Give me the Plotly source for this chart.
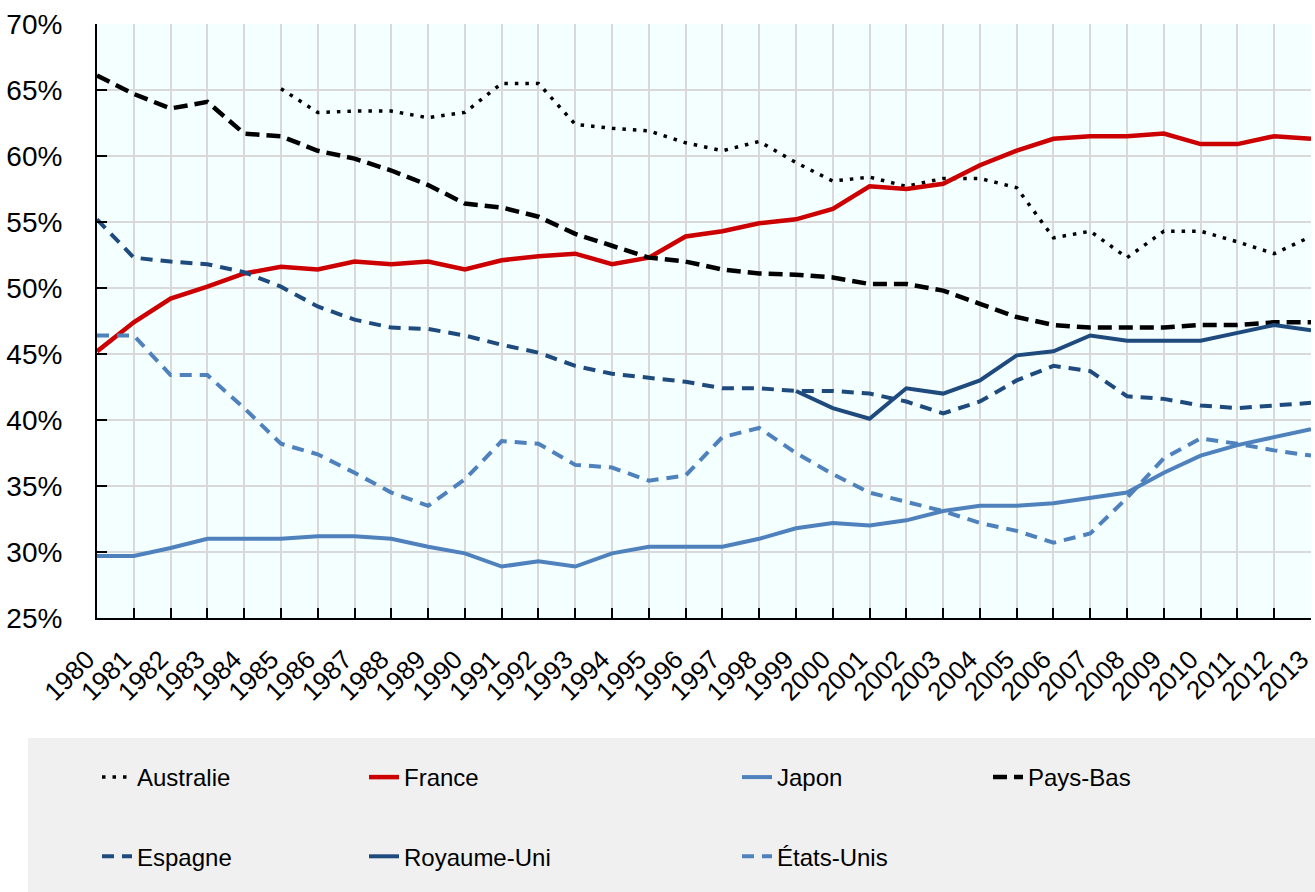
import plotly.graph_objects as go

years = list(range(1980, 2014))
aus_years = list(range(1985, 2014))
uk_years = list(range(1999, 2014))

australie = [65.1, 63.3, 63.4, 63.4, 62.9, 63.3, 65.5, 65.5, 62.4, 62.1, 61.9, 61.0, 60.4,
             61.1, 59.5, 58.1, 58.4, 57.7, 58.3, 58.3, 57.6, 53.8, 54.3, 52.3, 54.3, 54.3,
             53.5, 52.6, 53.9]
france = [45.2, 47.4, 49.2, 50.1, 51.1, 51.6, 51.4, 52.0, 51.8, 52.0, 51.4, 52.1, 52.4,
          52.6, 51.8, 52.3, 53.9, 54.3, 54.9, 55.2, 56.0, 57.7, 57.5, 57.9, 59.3, 60.4,
          61.3, 61.5, 61.5, 61.7, 60.9, 60.9, 61.5, 61.3]
japon = [29.7, 29.7, 30.3, 31.0, 31.0, 31.0, 31.2, 31.2, 31.0, 30.4, 29.9, 28.9, 29.3,
         28.9, 29.9, 30.4, 30.4, 30.4, 31.0, 31.8, 32.2, 32.0, 32.4, 33.1, 33.5, 33.5,
         33.7, 34.1, 34.5, 36.0, 37.3, 38.1, 38.7, 39.3]
pays_bas = [66.1, 64.7, 63.6, 64.1, 61.7, 61.5, 60.4, 59.8, 58.9, 57.8, 56.4, 56.1, 55.4,
            54.1, 53.2, 52.3, 52.0, 51.4, 51.1, 51.0, 50.8, 50.3, 50.3, 49.8, 48.8, 47.8,
            47.2, 47.0, 47.0, 47.0, 47.2, 47.2, 47.4, 47.4]
espagne = [55.2, 52.3, 52.0, 51.8, 51.2, 50.1, 48.6, 47.6, 47.0, 46.9, 46.4, 45.7, 45.1,
           44.1, 43.5, 43.2, 42.9, 42.4, 42.4, 42.2, 42.2, 42.0, 41.4, 40.5, 41.4, 43.0,
           44.1, 43.7, 41.8, 41.6, 41.1, 40.9, 41.1, 41.3]
royaume_uni = [42.2, 40.9, 40.1, 42.4, 42.0, 43.0, 44.9, 45.2, 46.4, 46.0, 46.0, 46.0,
               46.6, 47.2, 46.8]
etats_unis = [46.4, 46.4, 43.4, 43.4, 40.9, 38.2, 37.4, 36.0, 34.5, 33.5, 35.5, 38.4, 38.2,
              36.6, 36.4, 35.4, 35.8, 38.7, 39.4, 37.5, 35.9, 34.5, 33.8, 33.1, 32.2, 31.6,
              30.7, 31.4, 34.1, 37.1, 38.6, 38.2, 37.7, 37.3]

y_ticks = [25, 30, 35, 40, 45, 50, 55, 60, 65, 70]

BLACK = "#000000"
RED = "#CC0000"
DARK = "#1F4A7E"
LIGHT = "#4F81BD"
FONT = "Liberation Sans, Arial, sans-serif"

series = [
    ("Australie", aus_years, australie, BLACK, 3.5, "3.5px,7px", "legend"),
    ("France", years, france, RED, 4.5, "solid", "legend2"),
    ("Japon", years, japon, LIGHT, 4, "solid", "legend3"),
    ("Pays-Bas", years, pays_bas, BLACK, 4.5, "14px,7px", "legend4"),
    ("Espagne", years, espagne, DARK, 4, "12px,8px", "legend"),
    ("Royaume-Uni", uk_years, royaume_uni, DARK, 4, "solid", "legend2"),
    ("États-Unis", years, etats_unis, LIGHT, 4, "12px,8px", "legend3"),
]

fig = go.Figure()
for name, xs, ys, color, w, dash, leg in series:
    fig.add_trace(go.Scatter(
        x=xs, y=ys, name=name, mode="lines",
        line=dict(color=color, width=w, dash=dash),
        legend=leg, legendgroup=name,
    ))

W, H = 1315, 892
ml, mr, mt, mb = 97, 4, 24, 274
pw = W - ml - mr
ph = H - mt - mb

def px_x(x):
    return (x - ml) / pw

def px_y(y):
    return (H - mb - y) / ph

fig.add_shape(type="rect", xref="paper", yref="paper",
              x0=px_x(28), x1=px_x(1315), y0=px_y(892), y1=px_y(738),
              fillcolor="#F0F0F0", line=dict(width=0), layer="below")

legend_common = dict(
    orientation="v", xref="container", yref="container",
    xanchor="left", yanchor="top", bgcolor="rgba(0,0,0,0)",
    font=dict(family=FONT, size=24, color="#000000"),
    tracegroupgap=45, itemwidth=30,
)
legend_x = {"legend": 97, "legend2": 364, "legend3": 737, "legend4": 988}
layout_legends = {}
for k, xpix in legend_x.items():
    layout_legends[k] = dict(legend_common, x=xpix / W, y=1 - 755 / H)

fig.update_layout(
    width=W, height=H,
    margin=dict(l=ml, r=mr, t=mt, b=mb, autoexpand=False),
    paper_bgcolor="#FFFFFF",
    plot_bgcolor="#F4FFFF",
    font=dict(family=FONT, size=28, color="#000000"),
    showlegend=True,
    **layout_legends,
)

fig.update_xaxes(
    range=[1980, 2013], tickmode="array", tickvals=years,
    ticktext=[str(y) for y in years], tickangle=-45,
    showgrid=True, gridcolor="#D9D9D9", gridwidth=2,
    showline=True, linecolor="#000000", linewidth=2,
    ticks="inside", ticklen=10, tickwidth=2, tickcolor="#000000",
    zeroline=False, tickfont=dict(size=26), ticklabelstandoff=14,
    ticklabelshift=-10, ticklabeloverflow="allow",
)
fig.update_yaxes(
    range=[25, 70], tickmode="array", tickvals=y_ticks,
    ticktext=[f"{v}%" for v in y_ticks],
    showgrid=True, gridcolor="#D9D9D9", gridwidth=2,
    showline=True, linecolor="#000000", linewidth=2,
    ticks="inside", ticklen=10, tickwidth=2, tickcolor="#000000",
    zeroline=False, tickfont=dict(size=28), ticklabelstandoff=27,
    ticklabeloverflow="allow",
)

fig.write_html("out.html", post_script="document.body.style.margin='0';",
               config={"displayModeBar": False})
